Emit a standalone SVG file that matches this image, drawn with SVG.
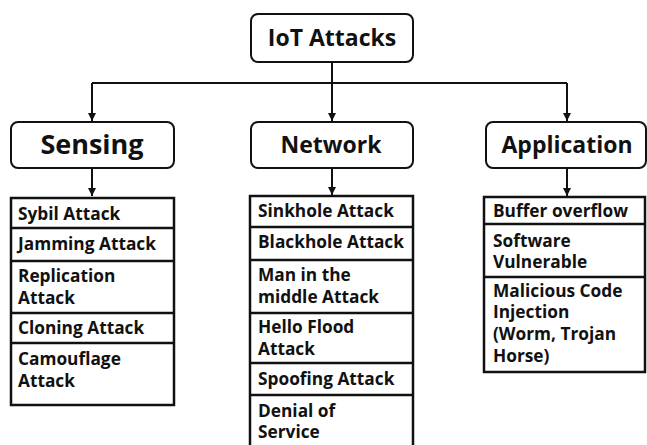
<svg xmlns="http://www.w3.org/2000/svg" width="647" height="445" viewBox="0 0 647 445">
  <style>
    text { font-family: "Open Sans", "Noto Sans", "Noto Sans CJK KR", sans-serif; font-weight: bold; fill: #111; }
    .head { fill: #fff; stroke: #111; stroke-width: 2; }
    .list { fill: #fff; stroke: #111; stroke-width: 2.5; }
    .div { stroke: #111; stroke-width: 2.5; }
    .title { font-size: 23px; text-anchor: middle; }
    .cat { font-size: 23px; text-anchor: middle; }
    .big { font-size: 27px; }
    .item { font-size: 17.3px; }
    .wire { fill: none; stroke: #111; stroke-width: 2; }
  </style>
  <defs>
    <marker id="arrow" viewBox="0 0 8 8" refX="8" refY="4" markerWidth="8" markerHeight="8" markerUnits="userSpaceOnUse" orient="auto">
      <path d="M0,0 L8,4 L0,8 Z" fill="#111"/>
    </marker>
  </defs>
  <rect width="647" height="445" fill="#fff"/>

  <g id="connectors">
    <path class="wire" d="M92,83 H567"/>
    <path class="wire" d="M332,62 V121" marker-end="url(#arrow)"/>
    <path class="wire" d="M92,83 V121" marker-end="url(#arrow)"/>
    <path class="wire" d="M567,83 V121" marker-end="url(#arrow)"/>
    <path class="wire" d="M92,168 V196" marker-end="url(#arrow)"/>
    <path class="wire" d="M332,168 V195" marker-end="url(#arrow)"/>
    <path class="wire" d="M567,168 V196" marker-end="url(#arrow)"/>
  </g>

  <g id="iot-attacks">
    <rect class="head" x="251" y="14" width="162" height="48" rx="7"/>
    <text class="title" x="332" y="46">IoT Attacks</text>
  </g>

  <g id="sensing">
    <rect class="head" x="11" y="122" width="163" height="46" rx="7"/>
    <text class="cat big" x="92" y="154">Sensing</text>
  </g>

  <g id="network">
    <rect class="head" x="251" y="122" width="162" height="46" rx="7"/>
    <text class="cat" x="331" y="153">Network</text>
  </g>

  <g id="application">
    <rect class="head" x="486" y="122" width="160" height="46" rx="7"/>
    <text class="cat" x="567" y="153">Application</text>
  </g>

  <g id="sensing-list">
    <rect class="list" x="11" y="198" width="163" height="207"/>
    <line class="div" x1="11" y1="228" x2="174" y2="228"/>
    <line class="div" x1="11" y1="261" x2="174" y2="261"/>
    <line class="div" x1="11" y1="313" x2="174" y2="313"/>
    <line class="div" x1="11" y1="343" x2="174" y2="343"/>
    <text class="item" x="18" y="220">Sybil Attack</text>
    <text class="item" x="18" y="250">Jamming Attack</text>
    <text class="item" x="18" y="282">Replication</text>
    <text class="item" x="18" y="304">Attack</text>
    <text class="item" x="18" y="334">Cloning Attack</text>
    <text class="item" x="18" y="365">Camouflage</text>
    <text class="item" x="18" y="387">Attack</text>
  </g>

  <g id="network-list">
    <rect class="list" x="250" y="196" width="163" height="260"/>
    <line class="div" x1="250" y1="227" x2="413" y2="227"/>
    <line class="div" x1="250" y1="260" x2="413" y2="260"/>
    <line class="div" x1="250" y1="313" x2="413" y2="313"/>
    <line class="div" x1="250" y1="363" x2="413" y2="363"/>
    <line class="div" x1="250" y1="395" x2="413" y2="395"/>
    <text class="item" x="258" y="217">Sinkhole Attack</text>
    <text class="item" x="258" y="248">Blackhole Attack</text>
    <text class="item" x="258" y="281">Man in the</text>
    <text class="item" x="258" y="303">middle Attack</text>
    <text class="item" x="258" y="333">Hello Flood</text>
    <text class="item" x="258" y="355">Attack</text>
    <text class="item" x="258" y="385">Spoofing Attack</text>
    <text class="item" x="258" y="417">Denial of</text>
    <text class="item" x="258" y="438">Service</text>
  </g>

  <g id="application-list">
    <rect class="list" x="484" y="197" width="161" height="175"/>
    <line class="div" x1="484" y1="224" x2="645" y2="224"/>
    <line class="div" x1="484" y1="277" x2="645" y2="277"/>
    <text class="item" x="493" y="217">Buffer overflow</text>
    <text class="item" x="493" y="247">Software</text>
    <text class="item" x="493" y="268">Vulnerable</text>
    <text class="item" x="493" y="297">Malicious Code</text>
    <text class="item" x="493" y="318">Injection</text>
    <text class="item" x="493" y="340">(Worm, Trojan</text>
    <text class="item" x="493" y="362">Horse)</text>
  </g>
</svg>
